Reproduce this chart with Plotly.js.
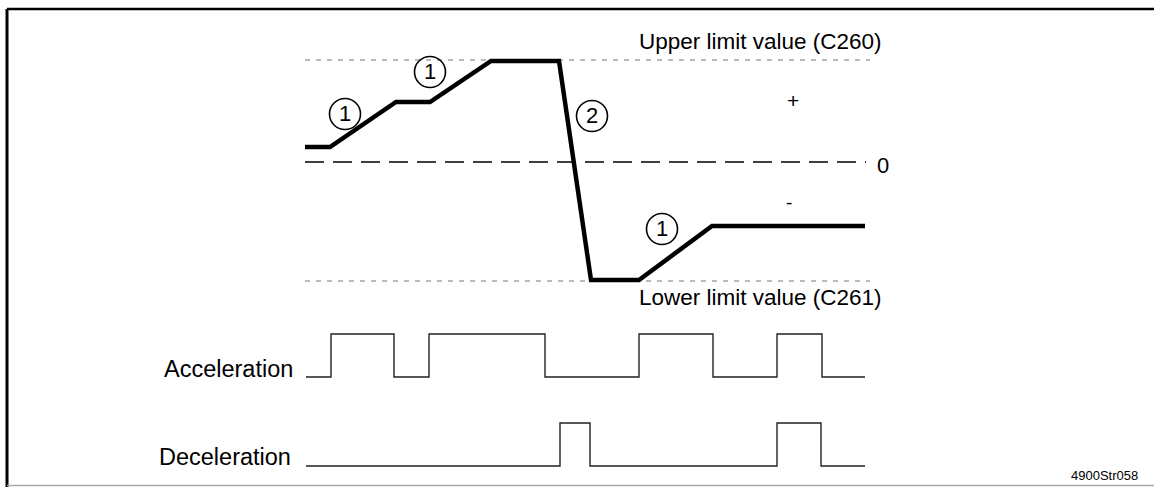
<!DOCTYPE html>
<html>
<head>
<meta charset="utf-8">
<script src="https://cdn.plot.ly/plotly-3.0.1.min.js"></script>
<style>html,body{margin:0;padding:0;background:#fff;}#chart{width:1154px;height:487px;}</style>
</head>
<body>
<div id="chart"></div>
<script>
// ---- data (time in arbitrary units, value in arbitrary units, 0 = zero line)
const mainTime  = [305, 330, 396, 430, 491, 559, 591, 639, 712, 865];
const mainValue = [15, 15, 60, 60, 101, 101, -118, -118, -64, -64];

const upperLimit = 102;
const lowerLimit = -119;
const refStart = 305, refEnd = 870, zeroEnd = 866;

const accTime  = [306, 331, 394, 429, 545, 639, 713, 777, 822, 865];
const accState = [0, 1, 0, 1, 0, 1, 0, 1, 0, 0];

const decTime  = [306, 560, 590, 777, 821, 865];
const decState = [0, 1, 0, 1, 0, 0];

const markerTime  = [345, 430, 592, 662];
const markerValue = [48, 90, 46, -67];
const markerLabel = ["1", "1", "2", "1"];

const labels = {
  upper: "Upper limit value (C260)",
  lower: "Lower limit value (C261)",
  zero: "0", plus: "+", minus: "-",
  acc: "Acceleration", dec: "Deceleration", code: "4900Str058"
};

const FONT = "Liberation Sans, Arial, Helvetica, sans-serif";
const W = 1154, H = 487;
const py = p => (H - p) / H; // pixel row -> paper fraction

const traces = [
  {x:[refStart, refEnd], y:[upperLimit, upperLimit], mode:'lines',
   line:{color:'#777', width:1, dash:'5px,6px'}, xaxis:'x', yaxis:'y', hoverinfo:'skip'},
  {x:[refStart, refEnd], y:[lowerLimit, lowerLimit], mode:'lines',
   line:{color:'#777', width:1, dash:'5px,6px'}, xaxis:'x', yaxis:'y', hoverinfo:'skip'},
  {x:[refStart, zeroEnd], y:[0, 0], mode:'lines',
   line:{color:'#000', width:1.3, dash:'19px,9px'}, xaxis:'x', yaxis:'y', hoverinfo:'skip'},
  {x:mainTime, y:mainValue, mode:'lines',
   line:{color:'#000', width:4.5}, xaxis:'x', yaxis:'y', hoverinfo:'skip'},
  {x:accTime, y:accState, mode:'lines', line:{color:'#222', width:1.4, shape:'hv'},
   xaxis:'x', yaxis:'y2', hoverinfo:'skip'},
  {x:decTime, y:decState, mode:'lines', line:{color:'#222', width:1.4, shape:'hv'},
   xaxis:'x', yaxis:'y3', hoverinfo:'skip'}
];

// axes domains for the two signals: state 0/1 rows in pixels
function dom(lowPx, highPx){
  const unit = lowPx - highPx, pad = 0.15*unit;
  return [py(lowPx + pad), py(highPx - pad)];
}

const shapes = [];
const annotations = [];
markerTime.forEach((t,i)=>{
  const r = 15.5;
  shapes.push({type:'circle', xref:'x', yref:'y', x0:t-r, x1:t+r,
    y0:markerValue[i]-r, y1:markerValue[i]+r, line:{color:'#000', width:1.6}, fillcolor:'rgba(0,0,0,0)'});
  annotations.push({xref:'x', yref:'y', x:t, y:markerValue[i]+1, text:markerLabel[i],
    showarrow:false, xanchor:'center', yanchor:'middle', font:{family:FONT, size:22, color:'#000'}});
});

// frame
shapes.push({type:'line', xref:'paper', yref:'paper', x0:7/W, x1:1, y0:py(9), y1:py(9), line:{color:'#000', width:2.5}});
shapes.push({type:'line', xref:'paper', yref:'paper', x0:7/W, x1:7/W, y0:py(9), y1:0, line:{color:'#000', width:3}});
shapes.push({type:'line', xref:'paper', yref:'paper', x0:7/W, x1:1, y0:py(485.5), y1:py(485.5), line:{color:'#aaa', width:1.5}});

annotations.push(
  {xref:'x', yref:'y', x:760, y:121, text:labels.upper, showarrow:false, xanchor:'center', yanchor:'middle', font:{family:FONT, size:22.5, color:'#000'}},
  {xref:'x', yref:'y', x:760, y:-135, text:labels.lower, showarrow:false, xanchor:'center', yanchor:'middle', font:{family:FONT, size:22.5, color:'#000'}},
  {xref:'x', yref:'y', x:883, y:-3, text:labels.zero, showarrow:false, xanchor:'center', yanchor:'middle', font:{family:FONT, size:22, color:'#000'}},
  {xref:'x', yref:'y', x:793, y:62, text:labels.plus, showarrow:false, xanchor:'center', yanchor:'middle', font:{family:FONT, size:21, color:'#000'}},
  {xref:'x', yref:'y', x:789, y:-40, text:labels.minus, showarrow:false, xanchor:'center', yanchor:'middle', font:{family:FONT, size:19, color:'#000'}},
  {xref:'paper', yref:'paper', x:295/W, y:py(369), text:labels.acc, showarrow:false, xanchor:'right', yanchor:'middle', font:{family:FONT, size:23.5, color:'#000'}},
  {xref:'paper', yref:'paper', x:293/W, y:py(457), text:labels.dec, showarrow:false, xanchor:'right', yanchor:'middle', font:{family:FONT, size:23.5, color:'#000'}},
  {xref:'paper', yref:'paper', x:1104/W, y:py(475), text:labels.code, showarrow:false, xanchor:'center', yanchor:'middle', font:{family:FONT, size:13, color:'#000'}}
);

const hidden = {visible:false, showgrid:false, zeroline:false, fixedrange:true};
const layout = {
  width:W, height:H, margin:{l:0, r:0, t:0, b:0},
  paper_bgcolor:'#fff', plot_bgcolor:'#fff', showlegend:false,
  xaxis:Object.assign({range:[0, W]}, hidden),
  yaxis:Object.assign({range:[162-H, 162], domain:[0,1]}, hidden),
  yaxis2:Object.assign({range:[-0.15, 1.15], domain:dom(377, 334), anchor:'x'}, hidden),
  yaxis3:Object.assign({range:[-0.15, 1.15], domain:dom(466, 423), anchor:'x'}, hidden),
  shapes:shapes, annotations:annotations
};
Plotly.newPlot('chart', traces, layout, {staticPlot:true, displayModeBar:false});
</script>
</body>
</html>
